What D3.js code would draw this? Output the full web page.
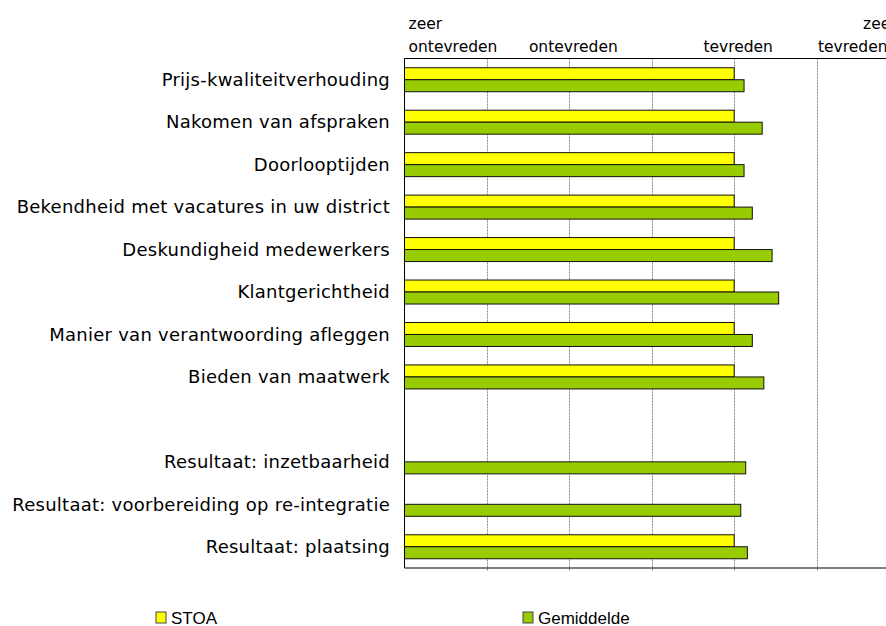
<!DOCTYPE html>
<html>
<head>
<meta charset="utf-8">
<script src="https://cdn.jsdelivr.net/npm/d3@7"></script>
<style>
  body { margin: 0; background: #fff; }
  svg { display: block; }
</style>
</head>
<body>
<div id="chart"></div>
<script>
// categories, top to bottom ("" is the empty row)
var categories = [
    "Prijs-kwaliteitverhouding",
    "Nakomen van afspraken",
    "Doorlooptijden",
    "Bekendheid met vacatures in uw district",
    "Deskundigheid medewerkers",
    "Klantgerichtheid",
    "Manier van verantwoording afleggen",
    "Bieden van maatwerk",
    "",
    "Resultaat: inzetbaarheid",
    "Resultaat: voorbereiding op re-integratie",
    "Resultaat: plaatsing"
];
var seriesNames = ["STOA", "Gemiddelde"];
var stoa       = [3, 3, 3, 3, 3, 3, 3, 3, null, null, null, 3];
var gemiddelde = [3.06, 3.17, 3.06, 3.11, 3.23, 3.27, 3.11, 3.18, null, 3.07, 3.04, 3.08];
var tickValues = [1, 2, 3, 4];
var tickLabels = [["zeer", "ontevreden"], ["ontevreden"], ["tevreden"], ["zeer", "tevreden"]];
var gridValues = [1.5, 2, 2.5, 3, 3.5];
var colors = ["#ffff00", "#99cc00"];

var width = 886, height = 626;
var margin = { top: 58.5, left: 404.5, bottom: 568 };

var svg = d3.select("#chart").append("svg")
    .attr("width", width)
    .attr("height", height);

var x = d3.scaleLinear().domain([1, 4]).range([margin.left, 899]);

var y = d3.scaleBand()
    .domain(categories)
    .range([margin.top, margin.bottom])
    .paddingInner(0.435)
    .paddingOuter(0.2175);

var ySub = d3.scaleBand().domain(seriesNames).range([0, y.bandwidth()]);

var rows = categories.map(function (c, i) {
    return { cat: c, values: [stoa[i], gemiddelde[i]] };
});

// gridlines
svg.append("g")
    .selectAll("line")
    .data(gridValues)
    .enter()
    .append("line")
    .attr("x1", d => Math.round(x(d)) + 0.5)
    .attr("x2", d => Math.round(x(d)) + 0.5)
    .attr("y1", margin.top)
    .attr("y2", margin.bottom + 3)
    .attr("stroke", "#8a8a8a")
    .attr("stroke-dasharray", "2,1");

// bars
var g = svg.append("g")
    .selectAll("g")
    .data(rows)
    .enter()
    .append("g")
    .attr("transform", d => "translate(0," + y(d.cat) + ")");

g.selectAll("rect")
    .data(d => d.values.map((v, j) => ({ s: seriesNames[j], v: v, j: j })).filter(e => e.v != null))
    .enter()
    .append("rect")
    .attr("x", x(1))
    .attr("y", d => ySub(d.s))
    .attr("width", d => x(d.v) - x(1))
    .attr("height", ySub.bandwidth())
    .attr("fill", d => colors[d.j])
    .attr("stroke", "#111")
    .attr("stroke-width", 1);

// frame lines
svg.append("line")
    .attr("x1", margin.left).attr("x2", width)
    .attr("y1", margin.top).attr("y2", margin.top)
    .attr("stroke", "#000");
svg.append("line")
    .attr("x1", margin.left).attr("x2", margin.left)
    .attr("y1", margin.top).attr("y2", margin.bottom)
    .attr("stroke", "#000");
svg.append("line")
    .attr("x1", margin.left).attr("x2", width)
    .attr("y1", margin.bottom).attr("y2", margin.bottom)
    .attr("stroke", "#000");

// category labels
svg.append("g")
    .selectAll("text")
    .data(categories)
    .enter()
    .append("text")
    .attr("x", 390)
    .attr("y", d => y(d) + y.bandwidth() / 2)
    .attr("dy", "0.35em")
    .attr("text-anchor", "end")
    .style("font-family", "'DejaVu Sans', Verdana, sans-serif")
    .style("font-size", "18px")
    .style("letter-spacing", "0.25px")
    .attr("fill", "#000")
    .text(d => d);

// top axis labels (edge labels hug the plot edges like the original)
var labelOffset = [
    [{ dx: 4, anchor: "start" }, { dx: 4, anchor: "start" }],
    [{ dx: 4, anchor: "middle" }],
    [{ dx: 4, anchor: "middle" }],
    [{ dx: -36, anchor: "start" }, { dx: -81, anchor: "start" }]
];

var tl = svg.append("g")
    .selectAll("text")
    .data(tickValues)
    .enter()
    .append("text")
    .style("font-family", "'DejaVu Sans', Verdana, sans-serif")
    .style("font-size", "15.5px")
    .attr("fill", "#000");

tl.selectAll("tspan")
    .data((d, i) => tickLabels[i].map((t, k) => ({ v: d, t: t, k: k, n: tickLabels[i].length, o: labelOffset[i][k] })))
    .enter()
    .append("tspan")
    .attr("x", d => x(d.v) + d.o.dx)
    .attr("text-anchor", d => d.o.anchor)
    .attr("y", d => 52 - (d.n - 1 - d.k) * 23)
    .text(d => d.t);

// legend
var legendX = [156, 523];
var lg = svg.append("g")
    .selectAll("g")
    .data(seriesNames)
    .enter()
    .append("g")
    .attr("transform", (d, i) => "translate(" + legendX[i] + ",612)");

lg.append("rect")
    .attr("width", 10)
    .attr("height", 11)
    .attr("fill", (d, i) => colors[i])
    .attr("stroke", "#444");

lg.append("text")
    .attr("x", 15)
    .attr("y", 11.5)
    .style("font-family", "'Liberation Sans', Arial, sans-serif")
    .style("font-size", "17px")
    .attr("fill", "#000")
    .text(d => d);
</script>
</body>
</html>
